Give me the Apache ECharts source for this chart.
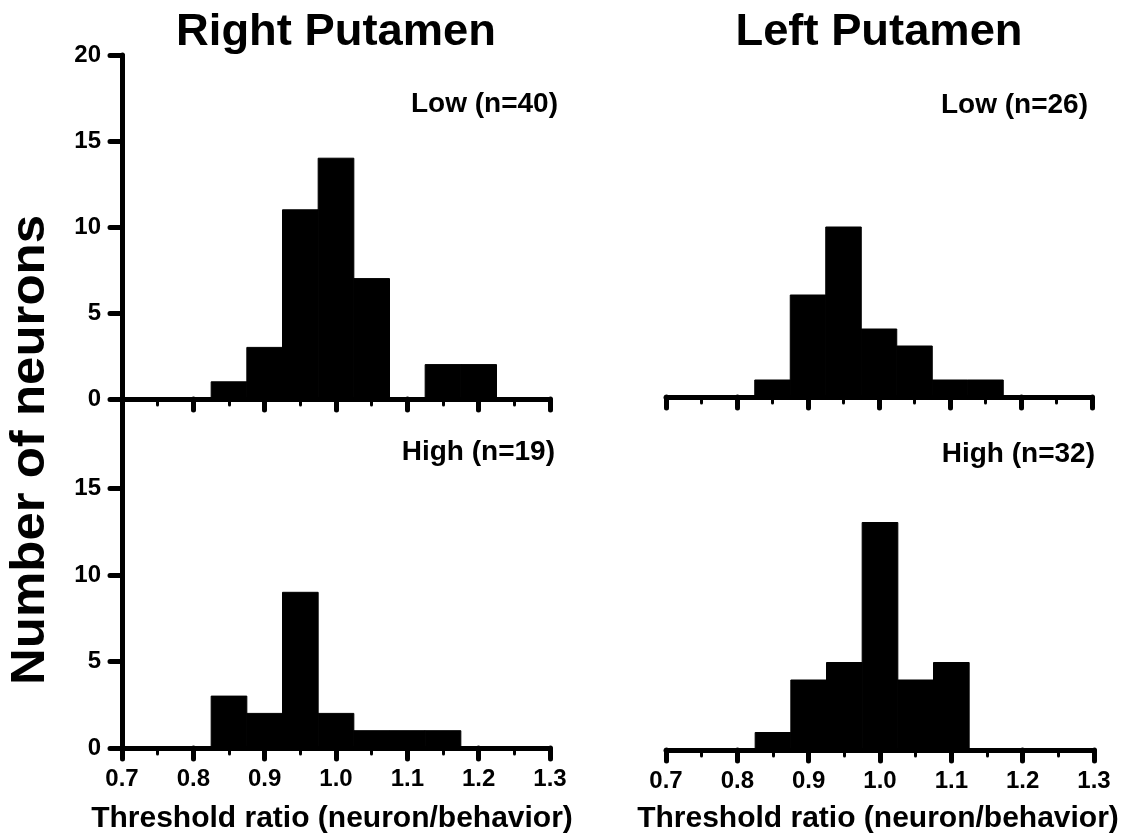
<!DOCTYPE html>
<html>
<head>
<meta charset="utf-8">
<script src="https://cdn.jsdelivr.net/npm/echarts@6/dist/echarts.min.js"></script>
<style>
html,body{margin:0;padding:0;background:#fff;}
#chart{width:1123px;height:836px;}
</style>
</head>
<body>
<div id="chart"></div>
<script>
// ---- data ----
const binCenters = [0.75, 0.80, 0.85, 0.90, 0.95, 1.00, 1.05, 1.10, 1.15, 1.20, 1.25];
const binWidth = 0.05;
const rightLow  = [0, 0, 1, 3, 11, 14, 7, 0, 2, 2, 0];
const rightHigh = [0, 0, 3, 2, 9, 2, 1, 1, 1, 0, 0];
const leftLow   = [0, 0, 1, 6, 10, 4, 3, 1, 1, 0, 0];
const leftHigh  = [0, 0, 1, 4, 5, 13, 4, 5, 0, 0, 0];
const panelTitles = ['Right Putamen', 'Left Putamen'];
const panelLabels = ['Low (n=40)', 'High (n=19)', 'Low (n=26)', 'High (n=32)'];
const yAxisTitle = 'Number of neurons';
const xAxisTitle = 'Threshold ratio (neuron/behavior)';
const xMin = 0.7, xMax = 1.3, xInterval = 0.1;
const yMin = 0, yMax = 20, yInterval = 5;

const FONT = '"Liberation Sans", Arial, Helvetica, sans-serif';
const chart = echarts.init(document.getElementById('chart'), null, {renderer: 'canvas'});

const grids = [
  {left: 122, top: 55,  width: 428, height: 344},
  {left: 122, top: 402, width: 428, height: 346},
  {left: 666, top: 57,  width: 426, height: 340},
  {left: 666, top: 400, width: 428, height: 350}
];
const seriesData = [rightLow, rightHigh, leftLow, leftHigh];

const tickRich = {t: {fontFamily: 'Liberation Sans', fontWeight: 'bold', fontSize: 24, color: '#000'}};

const xAxes = grids.map((g, i) => ({
  type: 'value', gridIndex: i, min: xMin, max: xMax, interval: xInterval,
  axisLine: {show: true, onZero: false, lineStyle: {color: '#000', width: 5, cap: 'round'}},
  axisTick: {show: true, length: 11, lineStyle: {color: '#000', width: 5, cap: 'round'}},
  minorTick: {show: true, splitNumber: 2, length: 6, lineStyle: {color: '#000', width: 3, cap: 'round'}},
  splitLine: {show: false},
  axisLabel: {
    show: (i === 1 || i === 3), margin: 19,
    color: '#000', fontFamily: 'Liberation Sans', fontWeight: 'bold', fontSize: 24,
    formatter: v => '{t|' + v.toFixed(1) + '}', rich: tickRich
  }
}));

const yAxes = grids.map((g, i) => ({
  type: 'value', gridIndex: i, min: yMin, max: yMax, interval: yInterval,
  show: (i === 0 || i === 1),
  axisLine: {show: true, lineStyle: {color: '#000', width: 5}},
  axisTick: {show: true, length: 12, lineStyle: {color: '#000', width: 5, cap: 'round'}},
  splitLine: {show: false},
  axisLabel: {
    show: true, margin: 21, showMaxLabel: i === 0,
    color: '#000', fontFamily: 'Liberation Sans', fontWeight: 'bold', fontSize: 24,
    formatter: v => '{t|' + v + '}', rich: tickRich
  }
}));

function renderItem(params, api) {
  const c = api.value(0), v = api.value(1);
  const p0 = api.coord([c - binWidth / 2, v]);
  const p1 = api.coord([c + binWidth / 2, 0]);
  return {
    type: 'rect',
    shape: {x: p0[0], y: p0[1], width: p1[0] - p0[0], height: p1[1] - p0[1]},
    style: {fill: '#000', stroke: '#000', lineWidth: 1}
  };
}

const series = seriesData.map((arr, i) => ({
  type: 'custom', xAxisIndex: i, yAxisIndex: i, clip: false,
  renderItem: renderItem,
  data: binCenters.map((c, k) => [c, arr[k]])
}));

function txt(text, x, y, size, align, opts) {
  return Object.assign({
    type: 'text', x: x, y: y, z: 100,
    style: {
      text: text, font: 'bold ' + size + 'px ' + FONT, fill: '#000',
      align: align, verticalAlign: 'middle',
      textAlign: align, textVerticalAlign: 'middle'
    }
  }, opts || {});
}

const graphics = [
  txt(panelTitles[0], 336, 33, 44, 'center', {scaleX: 1.03}),
  txt(panelTitles[1], 879, 33, 44, 'center', {scaleX: 1.03}),
  txt(yAxisTitle, 30, 450, 49, 'center', {rotation: Math.PI / 2, scaleX: 1.04}),
  txt(panelLabels[0], 558, 104, 28, 'right'),
  txt(panelLabels[1], 555, 452, 28, 'right'),
  txt(panelLabels[2], 1088, 105, 28, 'right'),
  txt(panelLabels[3], 1095, 454, 28, 'right'),
  txt(xAxisTitle, 332, 819, 30, 'center'),
  txt(xAxisTitle, 878, 819, 30, 'center')
];

chart.setOption({
  animation: false,
  backgroundColor: '#fff',
  grid: grids,
  xAxis: xAxes,
  yAxis: yAxes,
  series: series,
  graphic: graphics
});
</script>
</body>
</html>
